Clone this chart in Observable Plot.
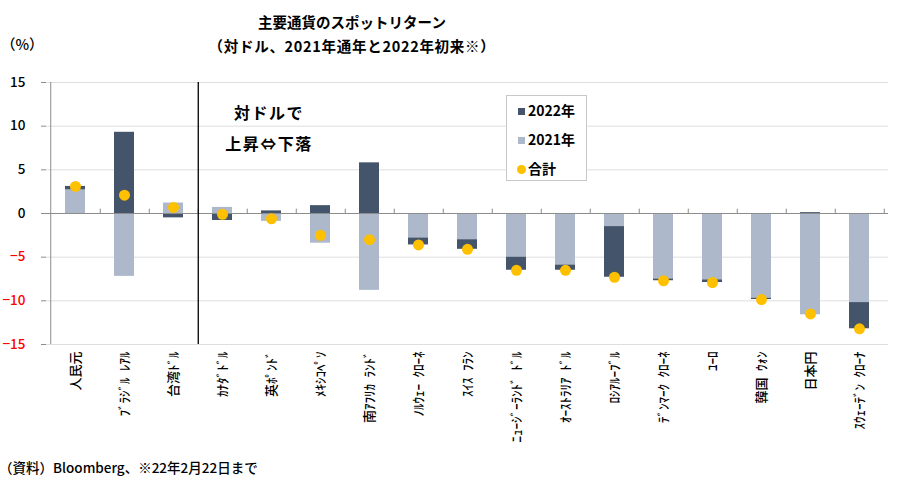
<!DOCTYPE html>
<html>
<head>
<meta charset="utf-8">
<script src="https://cdn.jsdelivr.net/npm/d3@7"></script>
<script src="https://cdn.jsdelivr.net/npm/@observablehq/plot@0.6"></script>
<style>
  body { margin: 0; background: #fff; }
  #wrap { position: relative; width: 900px; height: 492px; font-family: "Noto Sans CJK JP", "Noto Sans", sans-serif; color: #000; overflow: hidden; }
  #wrap svg { position: absolute; left: 0; top: 0; }
  .ov { position: absolute; white-space: nowrap; }
  #title { left: 0; width: 704px; top: 10px; text-align: center; font-size: 14.5px; font-weight: 700; line-height: 24px; }
  #title .l2 { letter-spacing: 0.7px; }
  #unit { left: 1px; top: 33px; font-size: 14.5px; font-weight: 500; }
  #note { left: -1px; top: 457px; font-size: 13.5px; font-weight: 500; }
  #ann { left: 199px; width: 140px; top: 97px; text-align: center; font-size: 16px; font-weight: 700; line-height: 31px; letter-spacing: 1.5px; }
  #legend { left: 506px; top: 95px; width: 79px; height: 84px; border: 1px solid #c8c8c8; background: #fff; font-size: 14px; font-weight: 700; }
  .li { position: absolute; left: 11px; height: 20px; line-height: 20px; }
  .sw { display: inline-block; width: 7px; height: 7px; margin-right: 3px; vertical-align: 1px; }
  .dt { display: inline-block; width: 9px; height: 9px; border-radius: 50%; margin-right: 2px; margin-left: -1px; vertical-align: 0px; }
</style>
</head>
<body>
<div id="wrap">
  <div id="chart"></div>
</div>
<script>
const categories = ["人民元","ﾌﾞﾗｼﾞﾙ ﾚｱﾙ","台湾ﾄﾞﾙ","ｶﾅﾀﾞﾄﾞﾙ","英ﾎﾟﾝﾄﾞ","ﾒｷｼｺﾍﾟｿ","南ｱﾌﾘｶ ﾗﾝﾄﾞ","ﾉﾙｳｪｰ ｸﾛｰﾈ","ｽｲｽ ﾌﾗﾝ","ﾆｭｰｼﾞｰﾗﾝﾄﾞ ﾄﾞﾙ","ｵｰｽﾄﾗﾘｱ ﾄﾞﾙ","ﾛｼｱﾙｰﾌﾞﾙ","ﾃﾞﾝﾏｰｸ ｸﾛｰﾈ","ﾕｰﾛ","韓国 ｳｫﾝ","日本円","ｽｳｪｰﾃﾞﾝ ｸﾛｰﾅ"];
const v2021 = [2.7, -7.2, 1.2, 0.7, -0.9, -3.4, -8.8, -2.8, -3.0, -5.0, -5.9, -1.5, -7.5, -7.6, -9.7, -11.6, -10.2];
const v2022 = [0.4, 9.3, -0.5, -0.8, 0.3, 0.9, 5.8, -0.8, -1.1, -1.5, -0.6, -5.8, -0.2, -0.3, -0.15, 0.1, -3.0];
const total = [3.1, 2.1, 0.7, -0.1, -0.6, -2.5, -3.0, -3.6, -4.1, -6.5, -6.5, -7.3, -7.7, -7.9, -9.85, -11.5, -13.2];
const yTicks = [-15, -10, -5, 0, 5, 10, 15];
const seriesNames = ["2021年", "2022年"];
const seriesColors = ["#adb9ca", "#44546a"];
const totalName = "合計";
const totalColor = "#ffc000";
const separatorAfter = "台湾ﾄﾞﾙ";

const W = 900, H = 492, mL = 46, mR = 12, mT = 82, mB = 148;
const step = (W - mL - mR) / categories.length;

const rows = categories.flatMap((c, i) => [
  {cat: c, year: seriesNames[0], v: v2021[i]},
  {cat: c, year: seriesNames[1], v: v2022[i]}
]);
const totals = categories.map((c, i) => ({cat: c, v: total[i]}));

const font = '"Noto Sans CJK JP", "Noto Sans", sans-serif';

const chart = Plot.plot({
  width: W, height: H,
  marginLeft: mL, marginRight: mR, marginTop: mT, marginBottom: mB,
  style: {fontFamily: font, background: "transparent", overflow: "visible"},
  x: {domain: categories, paddingInner: 0.6, paddingOuter: 0.3, label: null},
  y: {domain: [-15, 15], label: null},
  color: {domain: seriesNames, range: seriesColors},
  marks: [
    Plot.ruleY(yTicks.filter(d => d !== 0), {y: d => d, stroke: "#dedede", strokeWidth: 1}),
    Plot.barY(rows, {x: "cat", y: "v", fill: "year"}),
    Plot.ruleY([0], {stroke: "#8c8c8c", strokeWidth: 1}),
    Plot.ruleX(categories, {x: d => d, y1: 0, y2: 0.5, dx: step / 2, stroke: "#8c8c8c"}),
    Plot.ruleX(categories.slice(0, 1), {x: d => d, y1: -15, y2: 15, dx: -step / 2, stroke: "#8c8c8c"}),
    Plot.ruleX([separatorAfter], {x: d => d, y1: -15, y2: 15, dx: step / 2, stroke: "#000", strokeWidth: 1.3}),
    Plot.dot(totals, {x: "cat", y: "v", r: 5.5, fill: totalColor}),
    Plot.axisY({ticks: yTicks, tickSize: 5, stroke: "#8c8c8c", tickFormat: () => "", label: null}),
    Plot.text(yTicks, {y: d => d, frameAnchor: "left", dx: -21, textAnchor: "end",
      text: d => d < 0 ? "−" + Math.abs(d) : String(d),
      fill: d => d < 0 ? "#ff0000" : "#000", fontSize: 13.5, fontWeight: 500}),
    Plot.axisX({tickRotate: -90, tickSize: 0, tickPadding: 7, fontSize: 13, fontWeight: 500, label: null, fill: "#000",
      tickFormat: d => d.replace(/ /g, "\u2002")})
  ]
});
document.getElementById("chart").appendChild(chart);

const wrap = document.getElementById("wrap");
function add(id, html) {
  const d = document.createElement("div");
  d.className = "ov"; d.id = id; d.innerHTML = html;
  wrap.appendChild(d);
  return d;
}
add("title", "主要通貨のスポットリターン<br><span class=\"l2\">（対ドル、2021年通年と2022年初来※）</span>");
add("unit", "（%）");
add("note", "（資料）Bloomberg、※22年2月22日まで");
add("ann", "対ドルで<br>上昇⇔下落");
const lg = add("legend", "");
[[seriesNames[1], seriesColors[1], "sw", 4], [seriesNames[0], seriesColors[0], "sw", 33], [totalName, totalColor, "dt", 62]]
  .forEach(([name, col, cls, top]) => {
    const e = document.createElement("div");
    e.className = "li"; e.style.top = top + "px";
    e.innerHTML = `<span class="${cls}" style="background:${col}"></span>${name}`;
    lg.appendChild(e);
  });
</script>
</body>
</html>
